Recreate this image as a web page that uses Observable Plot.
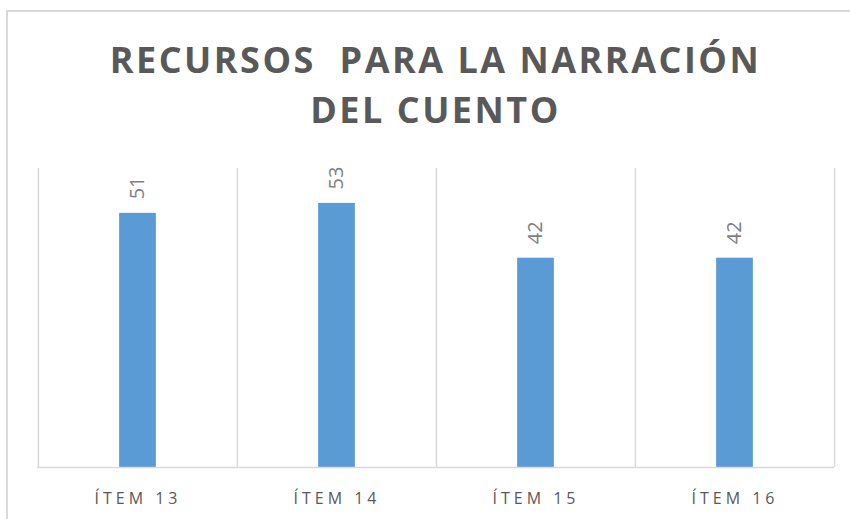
<!DOCTYPE html>
<html>
<head>
<meta charset="utf-8">
<script src="https://cdn.jsdelivr.net/npm/d3@7"></script>
<script src="https://cdn.jsdelivr.net/npm/@observablehq/plot@0.6"></script>
<style>
  html, body { margin: 0; padding: 0; background: #fff; }
  #wrap { position: relative; width: 850px; height: 519px; overflow: hidden; background: #fff; }
  #frame { position: absolute; left: 6px; top: 10px; width: 900px; height: 600px;
           border-top: 2px solid #d9d9d9; border-left: 2px solid #d9d9d9; pointer-events: none; }
  #title { position: relative; height: 150px; box-sizing: border-box; padding: 35px 16px 0 37px;
           font-family: "Open Sans", sans-serif; font-weight: 700; font-size: 36px; line-height: 50px;
           letter-spacing: 2.5px; color: #595959; text-align: center; white-space: pre; }
  #chart { position: relative; }
  #chart g[aria-label^="x-axis"] text { letter-spacing: 4px; }
</style>
</head>
<body>
<div id="wrap">
  <div id="frame"></div>
  <div id="title">RECURSOS  PARA LA NARRACIÓN
DEL CUENTO</div>
  <div id="chart"></div>
</div>
<script>
const categories = ["ÍTEM 13", "ÍTEM 14", "ÍTEM 15", "ÍTEM 16"];
const values = [51, 53, 42, 42];

const data = categories.map((c, i) => ({category: c, value: values[i]}));

const W = 850, H = 369, ML = 37, MR = 16, MT = 18, MB = 52;
const bw = (W - ML - MR) / categories.length;
const barW = 37;
const inset = (bw - barW) / 2;

const chart = Plot.plot({
  width: W,
  height: H,
  marginLeft: ML,
  marginRight: MR,
  marginTop: MT,
  marginBottom: MB,
  style: {fontFamily: "Open Sans, sans-serif", fontSize: "16px", color: "#595959", background: "transparent"},
  x: {domain: categories, padding: 0, tickSize: 0, tickPadding: 25, label: null},
  y: {domain: [0, 60], axis: null},
  marks: [
    Plot.ruleX(categories, {x: d => d, dx: -bw / 2, y1: 0, y2: 60, stroke: "#d9d9d9", strokeWidth: 1.5}),
    Plot.ruleX(categories.slice(-1), {x: d => d, dx: bw / 2, y1: 0, y2: 60, stroke: "#d9d9d9", strokeWidth: 1.5}),
    Plot.barY(data, {x: "category", y: "value", fill: "#5B9BD5", insetLeft: inset, insetRight: inset}),
    Plot.ruleY([0], {stroke: "#d9d9d9", strokeWidth: 1.5}),
    Plot.text(data, {x: "category", y: "value", text: d => String(d.value), rotate: -90,
      textAnchor: "start", lineAnchor: "middle", dy: -14, fontSize: 20, fill: "#7f7f7f"})
  ]
});
document.getElementById("chart").appendChild(chart);
</script>
</body>
</html>
